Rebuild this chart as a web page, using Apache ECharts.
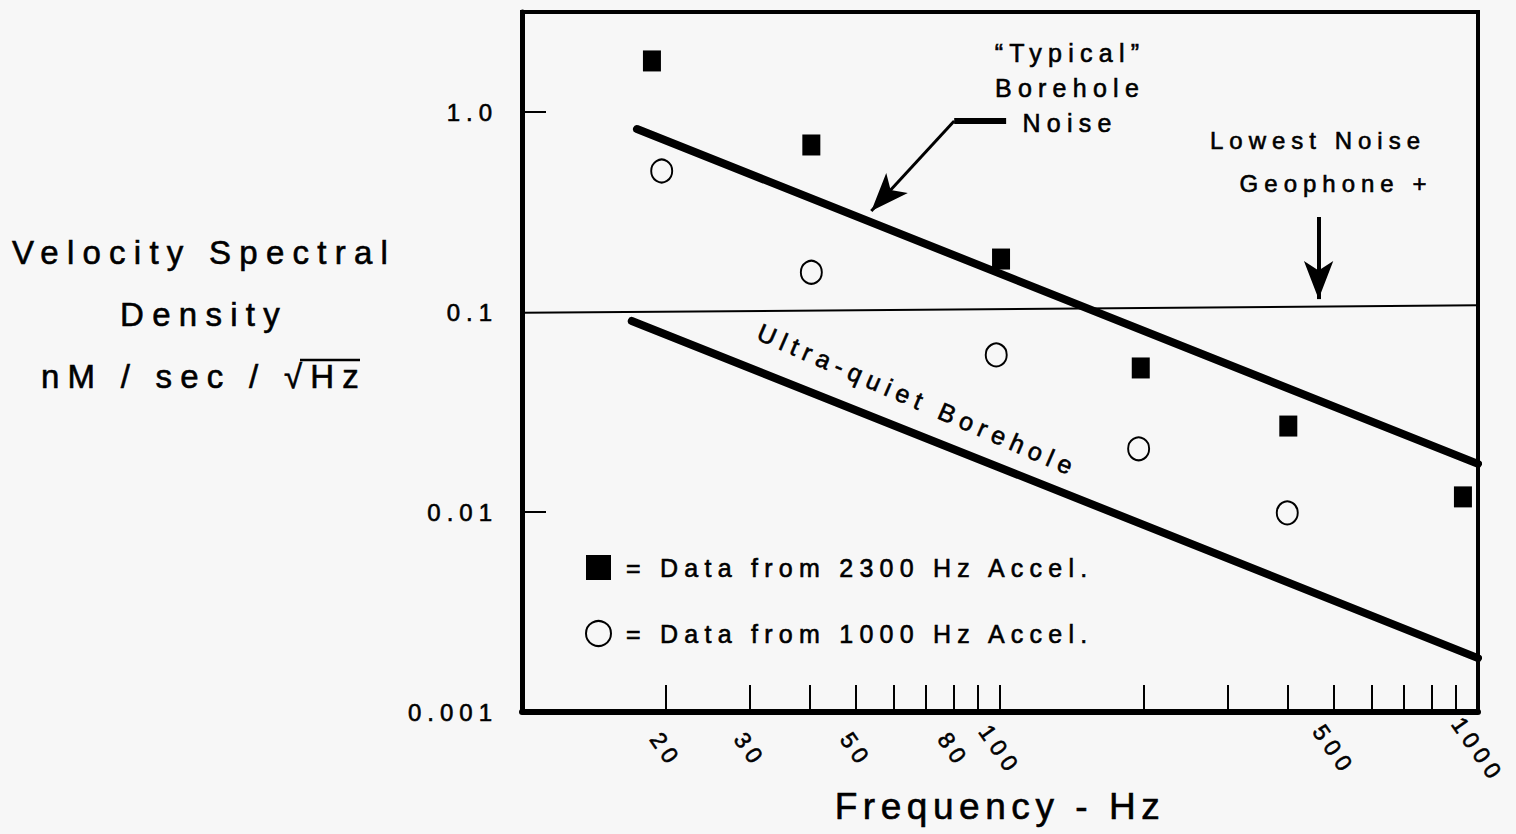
<!DOCTYPE html>
<html>
<head>
<meta charset="utf-8">
<script src="https://cdn.jsdelivr.net/npm/echarts@6/dist/echarts.min.js"></script>
<style>
  html, body { margin: 0; padding: 0; background: #f7f7f7; }
  #chart { width: 1516px; height: 834px; }
  /* the scanned figure uses heavy, widely tracked lettering */
  #chart text { letter-spacing: 0.25em; stroke: #000; stroke-width: 0.6px; }
  #chart text[style*="37px"] { letter-spacing: 0.15em; }
</style>
</head>
<body>
<div id="chart"></div>
<script>
// Data (log-log)
const boxFreq = [18.7, 40.3, 100.5, 197, 401, 930]
const boxVsd = [1.80, 0.684, 0.184, 0.0525, 0.0269, 0.0119]
const ringFreq = [19.6, 40.3, 98.2, 195, 399]
const ringVsd = [0.507, 0.158, 0.061, 0.0207, 0.0099]

const typicalFreq = [17.4, 1000]
const typicalVsd = [0.822, 0.0174]
const quietFreq = [16.97, 1000]
const quietVsd = [0.0902, 0.00186]
const geophoneFreq = [10, 1000]
const geophoneVsd = [0.099, 0.108]

const typicalArrowFreq = [103, 80.2, 53.8]
const typicalArrowVsd = [0.902, 0.902, 0.32]
const geophoneArrowFreq = [464, 464]
const geophoneArrowVsd = [0.2985, 0.116]

const xTickValues = [20, 30, 40, 50, 60, 70, 80, 90, 100, 200, 300, 400, 500, 600, 700, 800, 900, 1000]
const xLabelValues = [20, 30, 50, 80, 100, 500, 1000]
const yTickValues = [0.01, 1]
const yLabelValues = [0.001, 0.01, 0.1, 1]

const FONT = '"Liberation Sans", Arial, Helvetica, sans-serif'
const INK = '#000'
const PAPER = '#f7f7f7'

const pairs = (xs, ys) => xs.map((x, i) => [x, ys[i]])

const chart = echarts.init(document.getElementById('chart'), null, { renderer: 'svg' })

chart.setOption({
  animation: false,
  backgroundColor: PAPER,
  grid: {
    left: 522,
    right: 38,
    top: 12,
    bottom: 122,
    show: true,
    borderColor: INK,
    borderWidth: 4,
    outerBoundsMode: 'none'
  },
  legend: {
    data: ['Data from 2300 Hz Accel.', 'Data from 1000 Hz Accel.'],
    orient: 'vertical',
    left: 580,
    top: 550,
    itemWidth: 25,
    itemHeight: 25,
    itemGap: 40,
    selectedMode: false,
    formatter: name => '= ' + name,
    textStyle: { fontFamily: FONT, fontSize: 25, color: INK, padding: [0, 0, 0, 10] }
  },
  xAxis: {
    type: 'log',
    logBase: 10,
    min: 10,
    max: 1000,
    name: 'Frequency - Hz',
    nameLocation: 'middle',
    nameGap: 76,
    nameTextStyle: { fontFamily: FONT, fontSize: 37, color: INK },
    axisLine: { lineStyle: { color: INK, width: 6 } },
    axisTick: {
      inside: true,
      length: 27,
      customValues: xTickValues,
      lineStyle: { color: INK, width: 2 }
    },
    axisLabel: {
      customValues: xLabelValues,
      rotate: -55,
      margin: 38,
      align: 'center',
      verticalAlign: 'middle',
      fontFamily: FONT,
      fontSize: 23,
      color: INK,
      formatter: v => String(v)
    },
    splitLine: { show: false },
    minorTick: { show: false }
  },
  yAxis: {
    type: 'log',
    logBase: 10,
    min: 0.001,
    max: 3.1623,
    axisLine: { lineStyle: { color: INK, width: 5 } },
    axisTick: {
      inside: true,
      length: 24,
      customValues: yTickValues,
      lineStyle: { color: INK, width: 2 }
    },
    axisLabel: {
      customValues: yLabelValues,
      margin: 24,
      fontFamily: FONT,
      fontSize: 24,
      color: INK,
      formatter: v => (v === 1 ? '1.0' : String(v))
    },
    splitLine: { show: false }
  },
  series: [
    {
      name: 'Data from 2300 Hz Accel.',
      type: 'scatter',
      symbol: 'rect',
      symbolSize: [18, 21],
      itemStyle: { color: INK, opacity: 1 },
      data: pairs(boxFreq, boxVsd)
    },
    {
      name: 'Data from 1000 Hz Accel.',
      type: 'scatter',
      symbol: 'circle',
      symbolSize: [21, 23],
      itemStyle: { color: PAPER, borderColor: INK, borderWidth: 2, opacity: 1 },
      data: pairs(ringFreq, ringVsd)
    },
    {
      name: 'Typical Borehole Noise',
      type: 'line',
      symbol: 'none',
      lineStyle: { color: INK, width: 8, cap: 'round' },
      data: pairs(typicalFreq, typicalVsd)
    },
    {
      name: 'Ultra-quiet Borehole',
      type: 'line',
      symbol: 'none',
      lineStyle: { color: INK, width: 8, cap: 'round' },
      data: pairs(quietFreq, quietVsd)
    },
    {
      name: 'Lowest Noise Geophone',
      type: 'line',
      symbol: 'none',
      lineStyle: { color: INK, width: 2 },
      data: pairs(geophoneFreq, geophoneVsd),
      markLine: {
        silent: true,
        symbol: ['none', 'arrow'],
        symbolSize: [22, 38],
        label: { show: false },
        lineStyle: { color: INK, type: 'solid', width: 3 },
        data: [
          [
            { coord: [typicalArrowFreq[0], typicalArrowVsd[0]], symbol: 'none', lineStyle: { width: 6 } },
            { coord: [typicalArrowFreq[1], typicalArrowVsd[1]], symbol: 'none' }
          ],
          [
            { coord: [typicalArrowFreq[1], typicalArrowVsd[1]] },
            { coord: [typicalArrowFreq[2], typicalArrowVsd[2]] }
          ],
          [
            { coord: [geophoneArrowFreq[0], geophoneArrowVsd[0]], lineStyle: { width: 4 } },
            { coord: [geophoneArrowFreq[1], geophoneArrowVsd[1]] }
          ]
        ]
      }
    }
  ],
  graphic: [
    {
      type: 'text',
      x: 204,
      y: 314,
      style: {
        text: 'Velocity Spectral\nDensity\nnM / sec / √Hz',
        font: '33px ' + FONT,
        fill: INK,
        align: 'center',
        verticalAlign: 'middle',
        textAlign: 'center',
        textVerticalAlign: 'middle',
        lineHeight: 62
      }
    },
    {
      type: 'line',
      shape: { x1: 300, y1: 360, x2: 360, y2: 360 },
      style: { stroke: INK, lineWidth: 2.5 }
    },
    {
      type: 'text',
      x: 1070,
      y: 35,
      style: {
        text: '“Typical”\nBorehole\nNoise',
        font: '25px ' + FONT,
        fill: INK,
        align: 'center',
        textAlign: 'center',
        lineHeight: 35
      }
    },
    {
      type: 'text',
      x: 1318,
      y: 128,
      style: { text: 'Lowest Noise', font: '24px ' + FONT, fill: INK, align: 'center', textAlign: 'center' }
    },
    {
      type: 'text',
      x: 1336,
      y: 171,
      style: { text: 'Geophone +', font: '24px ' + FONT, fill: INK, align: 'center', textAlign: 'center' }
    },
    {
      type: 'text',
      x: 918,
      y: 400,
      rotation: -0.41,
      style: {
        text: 'Ultra-quiet Borehole',
        font: '25px ' + FONT,
        fill: INK,
        align: 'center',
        verticalAlign: 'middle',
        textAlign: 'center',
        textVerticalAlign: 'middle'
      }
    }
  ]
})

window.addEventListener('resize', () => chart.resize())
</script>
</body>
</html>
